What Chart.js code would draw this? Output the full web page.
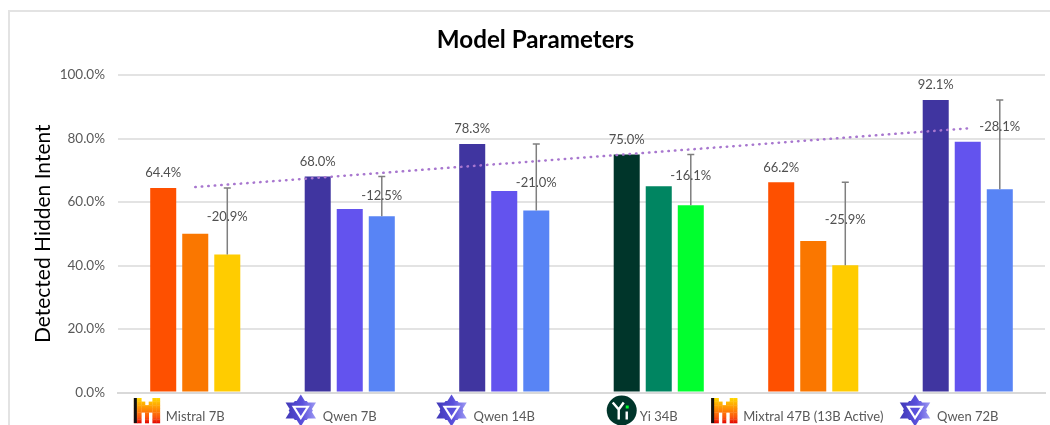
<!DOCTYPE html>
<html>
<head>
<meta charset="utf-8">
<title>Model Parameters</title>
<script src="https://cdn.jsdelivr.net/npm/chart.js@4"></script>
<style>
    html, body { margin: 0; padding: 0; background: #fff; overflow: hidden; }
    canvas { display: block; }
</style>
</head>
<body>
<canvas id="chart" width="1050" height="425"></canvas>
<script>
const models = ["Mistral 7B", "Qwen 7B", "Qwen 14B", "Yi 34B", "Mixtral 47B (13B Active)", "Qwen 72B"];
const logos = ["mistral", "qwen", "qwen", "yi", "mistral", "qwen"];
const firstBars = [64.4, 68.0, 78.3, 75.0, 66.2, 92.1];
const secondBars = [50.0, 57.8, 63.5, 65.0, 47.7, 79.0];
const thirdBars = [43.5, 55.5, 57.3, 59.0, 40.1, 64.0];
const drops = [-20.9, -12.5, -21.0, -16.1, -25.9, -28.1];
const trend = [64.7, 68.4, 72.1, 75.8, 79.5, 83.2];
const dropLabelAt = [55.2, 61.8, 66.2, 68.1, 54.3, 83.6]; // where the drop text sits on the y axis

const firstColors = ["#fe5000", "#4035a0", "#4035a0", "#00352a", "#fe5000", "#4035a0"];
const secondColors = ["#fa7700", "#6353ee", "#6353ee", "#008561", "#fa7700", "#6353ee"];
const thirdColors = ["#ffcc00", "#5884f5", "#5884f5", "#00ff2e", "#ffcc00", "#5884f5"];

const TEXT = "#595959";
const FONT = "Lato, 'Open Sans', sans-serif";

// pixel M of the Mistral logo, 1 = filled
const mistralRows = [
    "1100011",
    "1110111",
    "1111111",
    "1111111",
    "1101011",
    "1101011",
    "1101011"
];

function drawMistral(ctx, right, cy) {
    const w = 26, h = 25, x = right - w, y = cy - h / 2;
    const g = ctx.createLinearGradient(0, y, 0, y + h);
    g.addColorStop(0, "#ffd800");
    g.addColorStop(0.5, "#ff8205");
    g.addColorStop(0.8, "#fa500f");
    g.addColorStop(1, "#e10500");
    ctx.fillStyle = g;
    const cw = w / 7, ch = h / 7;
    mistralRows.forEach((row, r) => {
        [...row].forEach((c, k) => {
            if (c === "1") ctx.fillRect(x + k * cw, y + r * ch, cw + 0.3, ch + 0.3);
        });
    });
    ctx.fillStyle = "#111";
    ctx.fillRect(x, y, 3, h);
}

function drawQwen(ctx, right, cy) {
    const r = 16, cx = right - 15;
    const g = ctx.createLinearGradient(cx - r, cy, cx + r, cy);
    g.addColorStop(0, "#3f37b5");
    g.addColorStop(0.55, "#5a50dc");
    g.addColorStop(1, "#a3a0f5");
    // star is a little wider than a regular hexagram
    const shape = (rad, start, n) => {
        ctx.beginPath();
        for (let i = 0; i < n; i++) {
            const a = start + i * Math.PI * 2 / n;
            ctx.lineTo(cx + 1.1 * rad * Math.cos(a), cy + rad * Math.sin(a));
        }
        ctx.closePath();
    };
    ctx.fillStyle = g;
    shape(r, -Math.PI / 2, 3);
    ctx.fill();
    shape(r, Math.PI / 2, 3);
    ctx.fill();
    shape(11, 0, 6);
    ctx.fill();
    ctx.fillStyle = "#fff";
    shape(9.5, Math.PI / 2, 3);
    ctx.fill();
    ctx.fillStyle = "#5a50dc";
    shape(5.5, Math.PI / 2, 3);
    ctx.fill();
}

function drawYi(ctx, right, cy) {
    const r = 15, cx = right - r;
    ctx.fillStyle = "#00352a";
    ctx.beginPath();
    ctx.arc(cx, cy, r, 0, Math.PI * 2);
    ctx.fill();
    ctx.strokeStyle = "#fff";
    ctx.lineWidth = 2.4;
    ctx.beginPath();
    ctx.moveTo(cx - 9, cy - 8);
    ctx.lineTo(cx - 3, cy - 1);
    ctx.lineTo(cx - 3, cy + 9);
    ctx.moveTo(cx + 2, cy - 8);
    ctx.lineTo(cx - 3, cy - 1);
    ctx.moveTo(cx + 5, cy + 1);
    ctx.lineTo(cx + 5, cy + 9);
    ctx.stroke();
    ctx.fillStyle = "#00ff2e";
    ctx.fillRect(cx + 4, cy - 5, 3, 3);
}

const logoDrawers = { mistral: drawMistral, qwen: drawQwen, yi: drawYi };
const logoGaps = { mistral: 6, qwen: 7, yi: 3 };

// frame, title, value labels, error bars and logos
const extras = {
    id: "extras",
    beforeDraw(chart) {
        const ctx = chart.ctx;
        ctx.save();
        ctx.strokeStyle = "#e3e3e3";
        ctx.lineWidth = 2;
        ctx.beginPath();
        ctx.moveTo(9, 425);
        ctx.lineTo(9, 11);
        ctx.lineTo(1050, 11);
        ctx.stroke();

        // title sits right of the canvas centre, so the title plugin can't place it
        ctx.fillStyle = "#000";
        ctx.font = "bold 24.2px " + FONT;
        ctx.textAlign = "center";
        ctx.textBaseline = "middle";
        ctx.fillText("Model Parameters", 535.5, 40);
        ctx.restore();
    },
    afterDatasetsDraw(chart) {
        const ctx = chart.ctx;
        const y = chart.scales.y;
        const x = chart.scales.x;
        ctx.save();

        // error bars from the third bar up to the first bar's value
        const third = chart.getDatasetMeta(2).data;
        ctx.strokeStyle = "#7f7f7f";
        ctx.lineWidth = 1.5;
        third.forEach((bar, i) => {
            const top = y.getPixelForValue(firstBars[i]);
            const bottom = y.getPixelForValue(thirdBars[i]);
            ctx.beginPath();
            ctx.moveTo(bar.x, bottom);
            ctx.lineTo(bar.x, top);
            ctx.moveTo(bar.x - 3.5, top);
            ctx.lineTo(bar.x + 3.5, top);
            ctx.stroke();
        });

        ctx.fillStyle = "#505050";
        ctx.font = "13px " + FONT;
        ctx.textAlign = "center";
        ctx.textBaseline = "middle";
        chart.getDatasetMeta(0).data.forEach((bar, i) => {
            ctx.fillText(firstBars[i].toFixed(1) + "%", bar.x, bar.y - 15);
        });
        third.forEach((bar, i) => {
            ctx.fillText(drops[i].toFixed(1) + "%", bar.x, y.getPixelForValue(dropLabelAt[i]));
        });

        // logos sit just left of each axis label
        ctx.font = "13px " + FONT;
        models.forEach((name, i) => {
            const left = x.getPixelForValue(i) - ctx.measureText(name).width / 2;
            logoDrawers[logos[i]](ctx, left - logoGaps[logos[i]], 410.5);
        });
        ctx.restore();
    }
};

new Chart(document.getElementById("chart"), {
    type: "bar",
    plugins: [extras],
    data: {
        labels: models,
        datasets: [
            { data: firstBars, backgroundColor: firstColors, order: 1 },
            { data: secondBars, backgroundColor: secondColors, order: 1 },
            { data: thirdBars, backgroundColor: thirdColors, order: 1 },
            {
                type: "line",
                data: trend,
                borderColor: "#a877cf",
                borderWidth: 2.5,
                borderDash: [0.5, 6],
                borderCapStyle: "round",
                pointRadius: 0,
                tension: 0,
                order: 0
            }
        ]
    },
    options: {
        responsive: false,
        animation: false,
        layout: { padding: { top: 75, right: 5 } },
        categoryPercentage: 0.622,
        barPercentage: 0.8125,
        plugins: {
            legend: { display: false },
            tooltip: { enabled: false },
            title: { display: false }
        },
        scales: {
            x: {
                grid: { display: false },
                border: { color: "#d9d9d9", width: 2 },
                ticks: { color: TEXT, font: { family: FONT, size: 13 }, padding: 9, maxRotation: 0, autoSkip: false },
                afterFit(scale) { scale.height = 32.5; }
            },
            y: {
                min: 0,
                max: 100,
                ticks: {
                    stepSize: 20,
                    color: TEXT,
                    padding: 13,
                    font: { family: FONT, size: 13.5 },
                    callback: value => value.toFixed(1) + "%"
                },
                grid: { color: "#e3e3e3", lineWidth: 2, drawTicks: false },
                border: { display: false },
                title: {
                    display: true,
                    text: "Detected Hidden Intent",
                    color: "#000",
                    font: { family: FONT, size: 21 },
                    padding: { top: 31, bottom: 0 }
                },
                afterFit(scale) { scale.width = 118; }
            }
        }
    }
});
</script>
</body>
</html>
